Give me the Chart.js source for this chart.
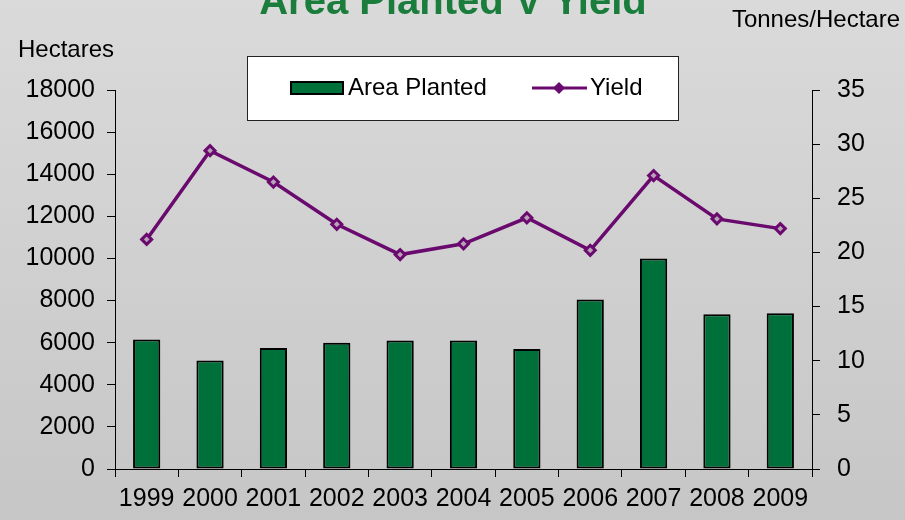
<!DOCTYPE html>
<html>
<head>
<meta charset="utf-8">
<script src="https://cdn.jsdelivr.net/npm/chart.js@4"></script>
<style>
  html, body { margin: 0; padding: 0; background: #d2d2d2; }
  #wrap { width: 905px; height: 520px; position: relative; }
</style>
</head>
<body>
<div id="wrap"><canvas id="myChart" width="905" height="520"></canvas></div>
<script>
const years = ['1999', '2000', '2001', '2002', '2003', '2004', '2005', '2006', '2007', '2008', '2009'];
const areaPlanted = [6150, 5150, 5750, 6000, 6100, 6100, 5700, 8050, 10000, 7350, 7400];
const yieldValues = [21.2, 29.4, 26.5, 22.6, 19.8, 20.8, 23.2, 20.2, 27.1, 23.1, 22.2];
const hectareTicks = [0, 18000, 2000];
const yieldTicks = [0, 35, 5];

const green = '#00703a';
const purple = '#6a0a6e';
const font = 'Liberation Sans, Arial, sans-serif';

const decorations = {
    id: 'decorations',
    beforeDraw(chart) {
        const c = chart.ctx;
        const g = c.createLinearGradient(0, 0, 0, chart.height);
        g.addColorStop(0, '#dadada');
        g.addColorStop(1, '#c6c6c6');
        c.save();
        c.fillStyle = g;
        c.fillRect(0, 0, chart.width, chart.height);
        c.restore();
    },
    afterDraw(chart) {
        const c = chart.ctx;
        c.save();
        // title, cut off at the top like the original
        c.fillStyle = '#1b7d3c';
        c.font = 'bold 40px ' + font;
        c.textAlign = 'center';
        c.textBaseline = 'alphabetic';
        c.fillText('Area Planted V Yield', 453, 14);

        // axis titles
        c.fillStyle = '#000';
        c.font = '24px ' + font;
        c.textBaseline = 'middle';
        c.textAlign = 'left';
        c.fillText('Hectares', 18, 50);
        c.textAlign = 'right';
        c.fillText('Tonnes/Hectare', 900, 20);

        // legend box
        c.fillStyle = '#fff';
        c.fillRect(247, 56, 431, 64);
        c.strokeStyle = '#222';
        c.lineWidth = 1;
        c.strokeRect(247.5, 56.5, 431, 64);

        const bar = chart.data.datasets[1];
        const line = chart.data.datasets[0];
        c.fillStyle = bar.backgroundColor;
        c.fillRect(291, 82, 52, 12);
        c.strokeStyle = '#000';
        c.lineWidth = 2;
        c.strokeRect(291, 82, 52, 12);
        c.fillStyle = '#000';
        c.textAlign = 'left';
        c.fillText(bar.label, 348, 88);

        c.strokeStyle = line.borderColor;
        c.lineWidth = 3;
        c.beginPath();
        c.moveTo(532, 88);
        c.lineTo(587, 88);
        c.stroke();
        c.fillStyle = line.borderColor;
        c.beginPath();
        c.moveTo(559, 82);
        c.lineTo(565, 88);
        c.lineTo(559, 94);
        c.lineTo(553, 88);
        c.closePath();
        c.fill();
        c.fillStyle = '#000';
        c.fillText(line.label, 590, 88);
        c.restore();
    }
};

const plain = v => String(v);

const ctx = document.getElementById('myChart').getContext('2d');
const myChart = new Chart(ctx, {
    type: 'bar',
    data: {
        labels: years,
        datasets: [{
            type: 'line',
            label: 'Yield',
            data: yieldValues,
            yAxisID: 'y1',
            borderColor: purple,
            borderWidth: 3.5,
            tension: 0,
            pointStyle: 'rectRot',
            pointRadius: 5,
            pointBorderWidth: 3,
            pointBorderColor: purple,
            pointBackgroundColor: '#b9a3b9',
            order: 0
        },
        {
            type: 'bar',
            label: 'Area Planted',
            data: areaPlanted,
            yAxisID: 'y',
            backgroundColor: green,
            borderColor: '#000',
            borderWidth: 2,
            borderSkipped: false,
            barPercentage: 0.43,
            categoryPercentage: 1,
            order: 1
        }]
    },
    options: {
        responsive: false,
        animation: false,
        layout: { padding: { top: 90, left: 0, right: 0, bottom: 0 } },
        plugins: {
            legend: { display: false },
            title: { display: false },
            tooltip: { enabled: false }
        },
        scales: {
            x: {
                offset: true,
                grid: { offset: true, drawOnChartArea: false, tickLength: 8, color: '#000', lineWidth: 1 },
                border: { color: '#000', width: 1 },
                ticks: { color: '#000', font: { family: font, size: 25 }, padding: 7, maxRotation: 0, autoSkip: false },
                afterFit(scale) { scale.height = 51; }
            },
            y: {
                position: 'left',
                min: hectareTicks[0],
                max: hectareTicks[1],
                ticks: { stepSize: hectareTicks[2], color: '#000', font: { family: font, size: 25 }, padding: 12, callback: plain },
                grid: { drawOnChartArea: false, tickLength: 8, color: '#000' },
                border: { color: '#000', width: 1 },
                afterFit(scale) { scale.width = 115; }
            },
            y1: {
                position: 'right',
                min: yieldTicks[0],
                max: yieldTicks[1],
                ticks: { stepSize: yieldTicks[2], color: '#000', font: { family: font, size: 25 }, padding: 17, callback: plain },
                grid: { drawOnChartArea: false, tickLength: 8, color: '#000' },
                border: { color: '#000', width: 1 },
                afterFit(scale) { scale.width = 93; }
            }
        }
    },
    plugins: [decorations]
});
</script>
</body>
</html>
